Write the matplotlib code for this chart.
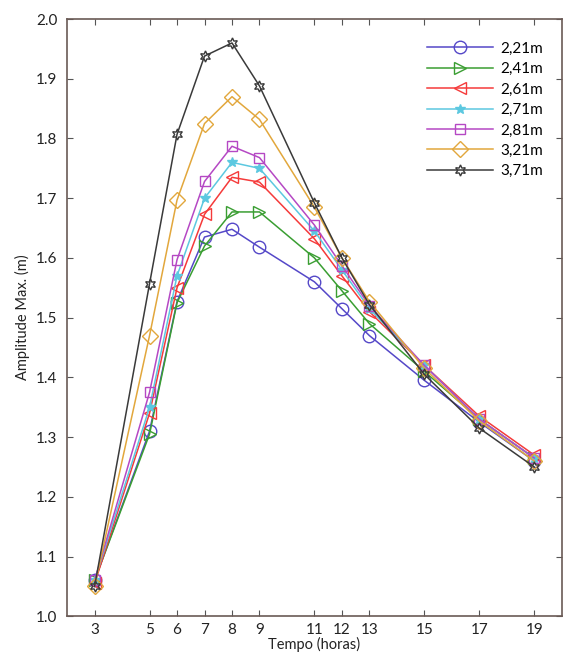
import matplotlib
matplotlib.use("Agg")
import matplotlib.pyplot as plt

plt.rcParams['font.family'] = ['Lato', 'DejaVu Sans']

horas = [3, 5, 6, 7, 8, 9, 11, 12, 13, 15, 17, 19]

a_221 = [1.060, 1.310, 1.527, 1.635, 1.648, 1.618, 1.560, 1.515, 1.470, 1.395, 1.325, 1.260]
a_241 = [1.060, 1.305, 1.525, 1.620, 1.677, 1.677, 1.600, 1.545, 1.490, 1.410, 1.330, 1.265]
a_261 = [1.055, 1.340, 1.550, 1.673, 1.735, 1.727, 1.632, 1.570, 1.510, 1.420, 1.335, 1.270]
a_271 = [1.060, 1.350, 1.570, 1.700, 1.760, 1.750, 1.645, 1.580, 1.515, 1.420, 1.330, 1.265]
a_281 = [1.060, 1.375, 1.597, 1.728, 1.787, 1.768, 1.655, 1.587, 1.520, 1.420, 1.330, 1.265]
a_321 = [1.050, 1.470, 1.697, 1.825, 1.870, 1.832, 1.685, 1.600, 1.527, 1.415, 1.327, 1.260]
a_371 = [1.050, 1.557, 1.807, 1.938, 1.960, 1.888, 1.692, 1.600, 1.522, 1.405, 1.315, 1.250]

series = [a_221, a_241, a_261, a_271, a_281, a_321, a_371]
labels = ['2,21m', '2,41m', '2,61m', '2,71m', '2,81m', '3,21m', '3,71m']
colors = ['#5548c8', '#3a9e32', '#f53a3a', '#5cc8e0', '#b548c4', '#e2a73c', '#3a3a3a']
markers = ['o', '>', '<', '*', 's', 'D', (6, 1, 0)]
msizes = [9, 9, 9, 7, 7, 8, 8]

fig = plt.figure(figsize=(5.64, 6.57), dpi=100)
ax = fig.add_axes([0.119, 0.062, 0.877, 0.909])

for y, lab, c, m, ms in zip(series, labels, colors, markers, msizes):
    if m == '*':
        ax.plot(horas, y, color=c, marker=m, markersize=ms, markerfacecolor=c,
                markeredgecolor=c, linewidth=1.1, label=lab)
    else:
        ax.plot(horas, y, color=c, marker=m, markersize=ms, markerfacecolor='none',
                markeredgecolor=c, markeredgewidth=1.0, linewidth=1.1, label=lab)

ax.set_xlim(2, 20)
ax.set_ylim(1.0, 2.0)
ax.set_xticks(horas)
ax.set_yticks([1.0, 1.1, 1.2, 1.3, 1.4, 1.5, 1.6, 1.7, 1.8, 1.9, 2.0])
ax.set_yticklabels(['1.0', '1.1', '1.2', '1.3', '1.4', '1.5', '1.6', '1.7', '1.8', '1.9', '2.0'])
ax.tick_params(direction='in', top=True, right=True, length=4, width=0.8,
               labelsize=11, colors='#555555', labelcolor='#222222', pad=7)
ax.tick_params(axis='x', pad=5)
for s in ax.spines.values():
    s.set_color('#6a5a55')
    s.set_linewidth(1.2)

ax.set_xlabel('Tempo (horas)', fontsize=10.5, color='#222222', labelpad=0)
ax.set_ylabel('Amplitude Max. (m)', fontsize=10.5, color='#222222', labelpad=4)

ax.legend(loc='upper right', frameon=False, fontsize=11, handlelength=4.3,
          labelspacing=0.42, handletextpad=0.5, bbox_to_anchor=(0.99, 0.985))

fig.savefig('out.png', dpi=100)
